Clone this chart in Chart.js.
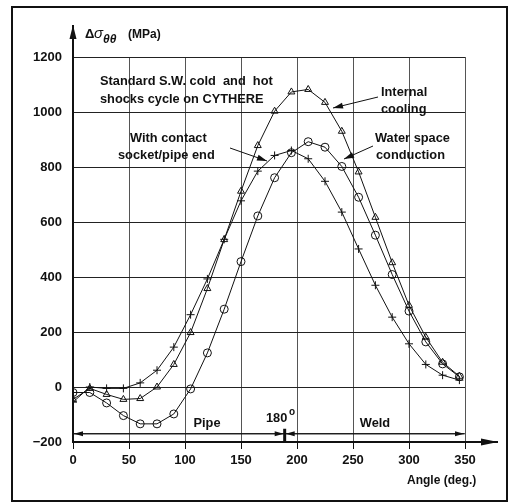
<!DOCTYPE html>
<html>
<head>
<meta charset="utf-8">
<script src="https://cdn.jsdelivr.net/npm/chart.js@4/dist/chart.umd.min.js"></script>
<style>
  body { margin: 0; background: #fff; }
  #wrap { width: 510px; height: 503px; position: relative; }
</style>
</head>
<body>
<div id="wrap"><canvas id="chart"></canvas></div>
<script>
// angle (deg.) of each measuring point
var angles = [0, 15, 30, 45, 60, 75, 90, 105, 120, 135, 150, 165,
              180, 195, 210, 225, 240, 255, 270, 285, 300, 315, 330, 345];

// delta sigma theta-theta (MPa)
var internalCooling = [-45, -5, -27, -45, -42, 0, 82, 198, 358, 536, 712, 878,
                       1003, 1073, 1082, 1035, 930, 782, 617, 452, 297, 181, 90, 39];
var withContact = [-55, 0, -5, -5, 15, 61, 145, 263, 393, 537, 677, 785,
                   842, 860, 830, 748, 636, 502, 370, 254, 157, 82, 43, 25];
var waterSpace = [-20, -20, -58, -104, -134, -134, -98, -7, 124, 283, 456, 622,
                  761, 852, 892, 872, 802, 690, 552, 409, 276, 164, 84, 37];

var xTicks = [0, 50, 100, 150, 200, 250, 300, 350];
var yTicks = [-200, 0, 200, 400, 600, 800, 1000, 1200];

var FONT = '"Liberation Sans", Arial, Helvetica, sans-serif';
var INK = '#111';

function pts(vals) {
    return angles.map(function (a, i) { return { x: a, y: vals[i] }; });
}

function arrowHead(ctx, x1, y1, x2, y2, len, half) {
    var ang = Math.atan2(y2 - y1, x2 - x1);
    ctx.beginPath();
    ctx.moveTo(x2, y2);
    ctx.lineTo(x2 - len * Math.cos(ang) + half * Math.sin(ang), y2 - len * Math.sin(ang) - half * Math.cos(ang));
    ctx.lineTo(x2 - len * Math.cos(ang) - half * Math.sin(ang), y2 - len * Math.sin(ang) + half * Math.cos(ang));
    ctx.closePath();
    ctx.fill();
}

function arrow(ctx, x1, y1, x2, y2, len, half) {
    ctx.beginPath();
    ctx.moveTo(x1, y1);
    ctx.lineTo(x2, y2);
    ctx.stroke();
    arrowHead(ctx, x1, y1, x2, y2, len, half);
}

var decor = {
    id: 'decor',
    afterDraw: function (chart) {
        var ctx = chart.ctx;
        var xs = chart.scales.x, ys = chart.scales.y;
        var x0 = xs.getPixelForValue(0), yb = ys.getPixelForValue(-200);
        ctx.save();
        ctx.strokeStyle = INK;
        ctx.fillStyle = INK;

        // outer frame
        ctx.lineWidth = 2;
        ctx.strokeRect(12, 7, 495, 494);

        // axis extensions with arrows
        ctx.lineWidth = 2;
        arrow(ctx, x0, yb, x0, 25, 14, 3.5);
        arrow(ctx, xs.getPixelForValue(350), yb, 498, yb, 17, 3.5);

        // Pipe / Weld double arrows
        var ya = ys.getPixelForValue(-170);
        var xm = xs.getPixelForValue(189);
        var xr = xs.getPixelForValue(350);
        ctx.lineWidth = 1;
        arrow(ctx, xm, ya, x0 + 1, ya, 9, 2.5);
        arrow(ctx, x0, ya, xm - 1, ya, 9, 2.5);
        arrow(ctx, xr, ya, xm + 1, ya, 9, 2.5);
        arrow(ctx, xm, ya, xr - 1, ya, 9, 2.5);
        ctx.lineWidth = 3;
        ctx.beginPath();
        ctx.moveTo(xm, ya - 5);
        ctx.lineTo(xm, yb + 1);
        ctx.stroke();

        // leader arrows
        ctx.lineWidth = 1;
        arrow(ctx, 378, 97, 333, 108, 10, 3);
        arrow(ctx, 230, 148, 267, 161, 10, 3);
        arrow(ctx, 373, 146, 344, 159, 10, 3);

        // texts
        ctx.textBaseline = 'alphabetic';
        ctx.textAlign = 'left';
        ctx.font = 'bold 12.8px ' + FONT;
        ctx.fillText('Standard S.W. cold  and  hot', 100, 85);
        ctx.fillText('shocks cycle on CYTHERE', 100, 103);
        ctx.fillText('Internal', 381, 96);
        ctx.fillText('cooling', 381, 113);
        ctx.fillText('With contact', 130, 142);
        ctx.fillText('socket/pipe end', 118, 159);
        ctx.fillText('Water space', 375, 142);
        ctx.fillText('conduction', 376, 159);

        ctx.textAlign = 'center';
        ctx.fillText('Pipe', 207, 427);
        ctx.fillText('Weld', 375, 427);
        ctx.textAlign = 'left';
        ctx.fillText('180', 266, 422);
        ctx.font = 'bold 10px ' + FONT;
        ctx.fillText('o', 289, 415);

        ctx.font = 'bold 12px ' + FONT;
        ctx.fillText('Angle (deg.)', 407, 484);

        // y axis title: delta sigma theta theta (MPa)
        ctx.font = 'bold 13px ' + FONT;
        ctx.fillText('\u0394', 85, 38);
        ctx.font = 'italic 15px ' + FONT;
        ctx.fillText('\u03c3', 94, 38);
        ctx.font = 'italic bold 12px ' + FONT;
        ctx.fillText('\u03b8\u03b8', 103, 43);
        ctx.font = 'bold 12px ' + FONT;
        ctx.fillText('(MPa)', 128, 38);

        ctx.restore();
    }
};

var lineStyle = {
    borderColor: INK,
    borderWidth: 1,
    pointBorderColor: INK,
    pointBackgroundColor: 'rgba(0,0,0,0)',
    pointBorderWidth: 1,
    tension: 0,
    fill: false
};

new Chart(document.getElementById('chart'), {
    type: 'line',
    data: {
        datasets: [
            Object.assign({ label: 'Internal cooling', data: pts(internalCooling), pointStyle: 'triangle', pointRadius: 4 }, lineStyle),
            Object.assign({ label: 'With contact socket/pipe end', data: pts(withContact), pointStyle: 'cross', pointRadius: 4 }, lineStyle),
            Object.assign({ label: 'Water space conduction', data: pts(waterSpace), pointStyle: 'circle', pointRadius: 4 }, lineStyle)
        ]
    },
    options: {
        responsive: true,
        maintainAspectRatio: false,
        animation: false,
        layout: { padding: { left: 0, top: 57, right: 45, bottom: 0 } },
        plugins: {
            legend: { display: false },
            tooltip: { enabled: false },
            title: { display: false }
        },
        scales: {
            x: {
                type: 'linear',
                min: 0,
                max: 350,
                afterFit: function (s) { s.height = 61; },
                afterBuildTicks: function (s) { s.ticks = xTicks.map(function (v) { return { value: v }; }); },
                grid: { color: '#555', lineWidth: 1, tickLength: 7, tickColor: INK },
                border: { display: true, color: INK, width: 2 },
                ticks: {
                    autoSkip: false,
                    maxRotation: 0,
                    padding: 4,
                    color: INK,
                    font: { family: FONT, size: 13, weight: 'bold' }
                }
            },
            y: {
                min: -200,
                max: 1200,
                afterFit: function (s) { s.width = 73; },
                afterBuildTicks: function (s) { s.ticks = yTicks.map(function (v) { return { value: v }; }); },
                grid: { color: '#222', lineWidth: 1, drawTicks: false },
                border: { display: true, color: INK, width: 2 },
                ticks: {
                    padding: 11,
                    color: INK,
                    font: { family: FONT, size: 13, weight: 'bold' },
                    callback: function (v) { return v < 0 ? '\u2212' + Math.abs(v) : String(v); }
                }
            }
        }
    },
    plugins: [decor]
});
</script>
</body>
</html>
